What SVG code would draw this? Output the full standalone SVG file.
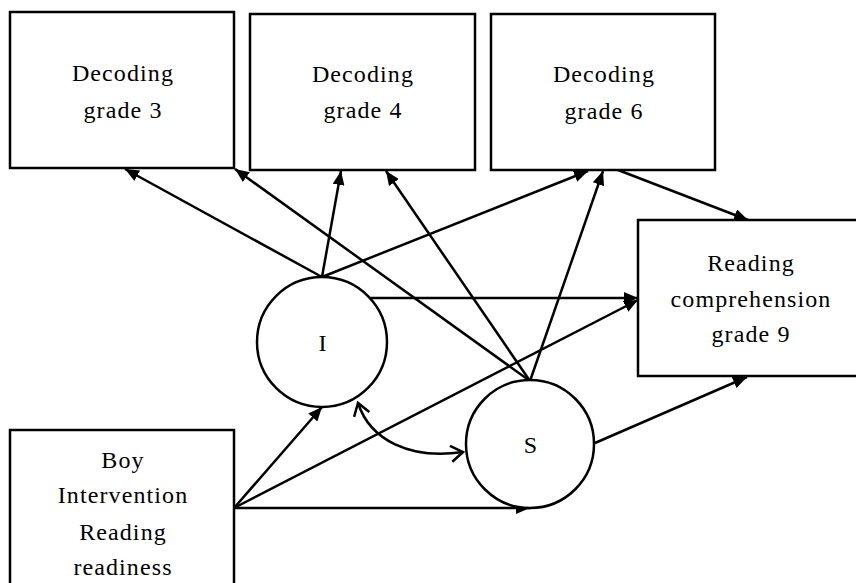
<svg xmlns="http://www.w3.org/2000/svg" width="856" height="583" viewBox="0 0 856 583">
<style>
.box{fill:#fff;stroke:#000;stroke-width:2.5}
.node{fill:#fff;stroke:#000;stroke-width:2.5}
.t{font-family:"Liberation Serif","Times New Roman",serif;font-size:24px;letter-spacing:1.1px;fill:#000;text-anchor:middle}
.e{fill:none;stroke:#000;stroke-width:2.5}
</style>
<defs>
<marker id="ah" viewBox="0 0 14 12" refX="14" refY="6" markerWidth="14" markerHeight="12" markerUnits="userSpaceOnUse" orient="auto">
<path d="M0,0 L14,6 L0,12 z" fill="#000"/>
</marker>
<marker id="oh" viewBox="0 0 16 18" refX="14" refY="9" markerWidth="16" markerHeight="18" markerUnits="userSpaceOnUse" orient="auto-start-reverse">
<path d="M2,1 L14,9 L2,17" fill="none" stroke="#000" stroke-width="2.5"/>
</marker>
</defs>
<rect width="856" height="583" fill="#fff"/>
<g id="connectors">
<line class="e" x1="322" y1="277" x2="125" y2="169" marker-end="url(#ah)"/>
<line class="e" x1="322" y1="277" x2="341" y2="171" marker-end="url(#ah)"/>
<line class="e" x1="322" y1="277" x2="588" y2="171" marker-end="url(#ah)"/>
<line class="e" x1="530" y1="381" x2="235" y2="169" marker-end="url(#ah)"/>
<line class="e" x1="530" y1="381" x2="386" y2="171" marker-end="url(#ah)"/>
<line class="e" x1="530" y1="381" x2="603" y2="171" marker-end="url(#ah)"/>
<line class="e" x1="369" y1="298" x2="638" y2="298" marker-end="url(#ah)"/>
<line class="e" x1="234" y1="508" x2="322" y2="407" marker-end="url(#ah)"/>
<line class="e" x1="234" y1="508" x2="638" y2="300" marker-end="url(#ah)"/>
<line class="e" x1="234" y1="508" x2="530" y2="508" marker-end="url(#ah)"/>
<line class="e" x1="595" y1="443" x2="747" y2="377" marker-end="url(#ah)"/>
<line class="e" x1="618" y1="170" x2="748" y2="220" marker-end="url(#ah)"/>
<path class="e" d="M358,403 C370,440 410,460 463,452" marker-start="url(#oh)" marker-end="url(#oh)"/>
</g>
<g id="dec3">
<rect class="box" x="10" y="12" width="224" height="156"/>
<text class="t" x="123" y="81">Decoding</text>
<text class="t" x="123" y="118">grade 3</text>
</g>
<g id="dec4">
<rect class="box" x="250" y="14" width="225" height="156"/>
<text class="t" x="363" y="82">Decoding</text>
<text class="t" x="363" y="118">grade 4</text>
</g>
<g id="dec6">
<rect class="box" x="491" y="14" width="224" height="156"/>
<text class="t" x="604" y="82">Decoding</text>
<text class="t" x="604" y="119">grade 6</text>
</g>
<g id="rc9">
<rect class="box" x="638" y="220" width="226" height="156"/>
<text class="t" x="751" y="271">Reading</text>
<text class="t" x="751" y="307">comprehension</text>
<text class="t" x="751" y="342">grade 9</text>
</g>
<g id="boy">
<rect class="box" x="10" y="430" width="224" height="160"/>
<text class="t" x="123" y="468">Boy</text>
<text class="t" x="123" y="503">Intervention</text>
<text class="t" x="123" y="540">Reading</text>
<text class="t" x="123" y="575">readiness</text>
</g>
<g id="I">
<circle class="node" cx="322" cy="342" r="65"/>
<text class="t" x="323" y="351">I</text>
</g>
<g id="S">
<circle class="node" cx="530" cy="444" r="64"/>
<text class="t" x="531" y="453">S</text>
</g>
</svg>
